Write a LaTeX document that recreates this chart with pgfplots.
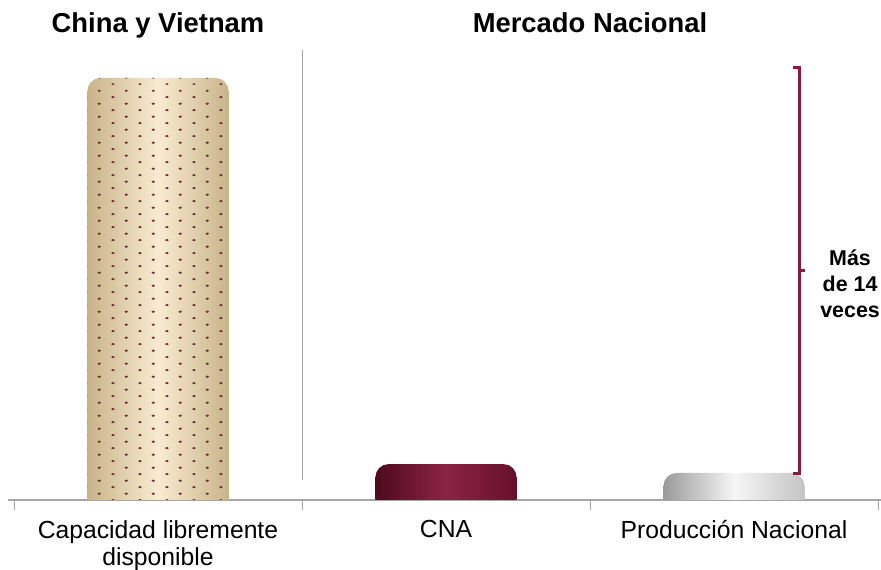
\documentclass[border=0pt]{standalone}
\usepackage{pgfplots}
\pgfplotsset{compat=1.18}
\usepackage{fontspec}
\setmainfont{Liberation Sans}
\usetikzlibrary{patterns.meta}

\definecolor{tanedge}{HTML}{C9B489}
\definecolor{tanmid}{HTML}{F8EBD0}
\definecolor{dotred}{HTML}{74303C}
\definecolor{wineedge}{HTML}{4E0A1E}
\definecolor{winemid}{HTML}{8C2444}
\definecolor{wineright}{HTML}{66102C}
\definecolor{greyedge}{HTML}{9A9A9A}
\definecolor{greymid}{HTML}{F6F6F6}
\definecolor{greyright}{HTML}{C4C4C4}
\definecolor{bracket}{HTML}{8B1A3E}
\definecolor{axisgrey}{HTML}{A6A6A6}

\tikzdeclarepattern{
  name=tandots,
  type=uncolored,
  bounding box={(0bp,0bp) and (26.7bp,13.4bp)},
  tile size={(26.7bp,13.4bp)},
  code={
    \fill (6bp,3bp) ellipse (1.7bp and 1.1bp);
    \fill (19.35bp,9.7bp) ellipse (1.7bp and 1.1bp);
  }
}

\pgfplotsset{
  % square lower part, lowered so only the round top of the bar shows above it
  barbase/.style={ybar, draw=none, yshift=-13.5bp},
  bartop/.style={ybar, draw=none, rounded corners=13bp},
}

\begin{document}
\begin{tikzpicture}
\useasboundingbox (0,0) rectangle (881bp,570bp);
\begin{axis}[
  at={(14bp,70bp)}, anchor=south west,
  scale only axis,
  width=864bp, height=464.2bp,
  xmin=-0.5, xmax=2.5,
  ymin=0, ymax=110,
  axis x line*=bottom,
  axis y line=none,
  x axis line style={axisgrey, line width=1.2bp, shorten <=-6bp, shorten >=-3bp},
  xtick={0,1,2},
  xticklabels={{Capacidad libremente\\disponible},{CNA},{Producción Nacional}},
  xticklabel style={align=center, font=\fontsize{24.8}{27}\selectfont, yshift=-17bp},
  major tick length=0pt,
  major x tick style={axisgrey, line width=1bp},
  extra x ticks={-0.5,0.5,1.5,2.5},
  extra x tick labels={},
  extra x tick style={tick align=outside, major tick length=10bp},
  ytick=\empty,
  bar width=0.49,
  clip=true,
]
% China y Vietnam: capacidad libremente disponible
\addplot[barbase, left color=tanedge, right color=tanedge, middle color=tanmid]
  coordinates {(0,100)};
\addplot[bartop, left color=tanedge, right color=tanedge, middle color=tanmid]
  coordinates {(0,100)};
\addplot[barbase, pattern={tandots}, pattern color=dotred]
  coordinates {(0,100)};
\addplot[bartop, pattern={tandots}, pattern color=dotred]
  coordinates {(0,100)};
% CNA
\addplot[barbase, left color=wineedge, right color=wineright, middle color=winemid]
  coordinates {(1,8.5)};
\addplot[bartop, left color=wineedge, right color=wineright, middle color=winemid]
  coordinates {(1,8.5)};
% Produccion Nacional
\addplot[barbase, left color=greyedge, right color=greyright, middle color=greymid]
  coordinates {(2,6.4)};
\addplot[bartop, left color=greyedge, right color=greyright, middle color=greymid]
  coordinates {(2,6.4)};

% anchors for the annotations, drawn outside the clipped axis
\coordinate (sepA) at (axis cs:0.5,4.7);
\coordinate (sepB) at (axis cs:0.5,106.6);
\coordinate (brT) at (axis cs:2.229,102.4);
\coordinate (brB) at (axis cs:2.229,6.3);
\coordinate (brM) at (axis cs:2.229,54.3);
\coordinate (brTxt) at (axis cs:2.403,51.3);
\coordinate (tA) at (axis cs:0,110.7);
\coordinate (tB) at (axis cs:1.5,110.7);
\end{axis}

% separator between groups
\draw[axisgrey, line width=1bp] (sepA) -- (sepB);
% bracket
\draw[bracket, line width=3bp]
  ([xshift=-7bp]brT) -- (brT) -- (brB) -- ([xshift=-7bp]brB);
\draw[bracket, line width=3bp] (brM) -- ([xshift=5bp]brM);
\node[font=\bfseries\fontsize{21.5}{26}\selectfont, align=center]
  at (brTxt) {Más\\de 14\\veces};

% group titles
\node[font=\bfseries\fontsize{27.5}{30}\selectfont, anchor=base] at (tA) {China y Vietnam};
\node[font=\bfseries\fontsize{27.5}{30}\selectfont, anchor=base] at (tB) {Mercado Nacional};
\end{tikzpicture}
\end{document}
